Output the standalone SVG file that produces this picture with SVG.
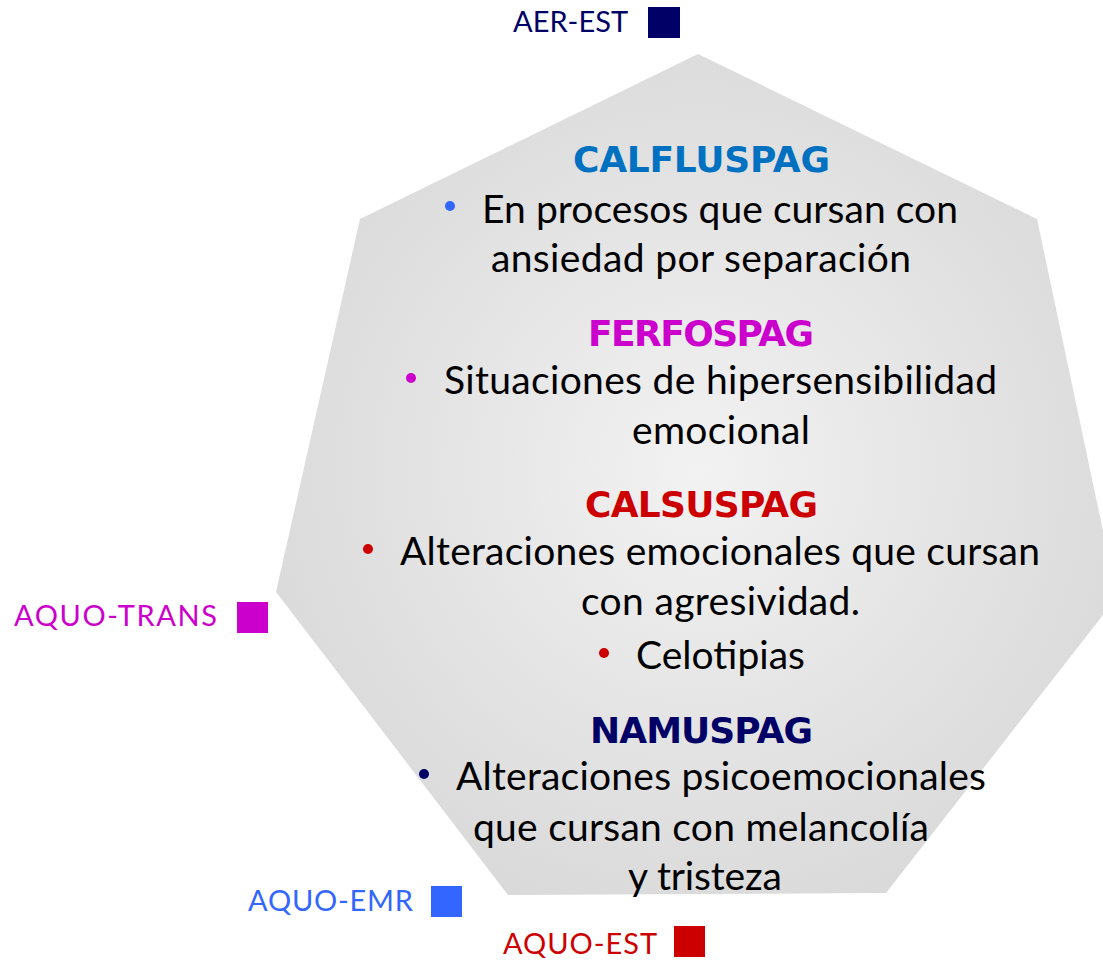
<svg xmlns="http://www.w3.org/2000/svg" width="1103" height="960" viewBox="0 0 1103 960">
<style>
.lbl{font-family:Lato,"Liberation Sans",sans-serif;font-size:29px}
.hd{font-family:"DejaVu Sans","Liberation Sans",sans-serif;font-weight:bold;font-size:36px}
.bd{font-family:Lato,"Open Sans","Liberation Sans",sans-serif;font-size:39px;fill:#000}
</style>
<defs>
<radialGradient id="g" cx="700" cy="470" r="470" gradientUnits="userSpaceOnUse">
<stop offset="0" stop-color="#f2f2f2"/>
<stop offset="1" stop-color="#d9d9d9"/>
</radialGradient>
</defs>
<g id="heptagon">
<polygon points="698,54 1037,219 1117,597 886,893 508,895 276,592 360,219" fill="url(#g)"/>
</g>
<g id="legend">
<g id="aer-est"><text class="lbl" x="513" y="32" fill="#000066" textLength="115">AER-EST</text><rect x="648" y="7" width="32" height="31" fill="#000066"/></g>
<g id="aquo-trans"><text class="lbl" x="14" y="626" fill="#CC00CC" textLength="203">AQUO-TRANS</text><rect x="237" y="602" width="31" height="31" fill="#CC00CC"/></g>
<g id="aquo-emr"><text class="lbl" x="248" y="911" fill="#3366FF" textLength="165">AQUO-EMR</text><rect x="431" y="886" width="31" height="31" fill="#3366FF"/></g>
<g id="aquo-est"><text class="lbl" x="503" y="954" fill="#CC0000" textLength="154">AQUO-EST</text><rect x="674" y="926" width="31" height="31" fill="#CC0000"/></g>
</g>
<g id="calfluspag">
<text class="hd" x="573" y="172" fill="#0070C0" textLength="257">CALFLUSPAG</text>
<circle cx="450" cy="206" r="5" fill="#3366FF"/>
<text class="bd" x="482" y="223" textLength="476">En procesos que cursan con</text>
<text class="bd" x="491" y="272" textLength="420">ansiedad por separación</text>
</g>
<g id="ferfospag">
<text class="hd" x="588" y="346" fill="#CC00CC" textLength="226">FERFOSPAG</text>
<circle cx="411" cy="378" r="5" fill="#CC00CC"/>
<text class="bd" x="444" y="394" textLength="553">Situaciones de hipersensibilidad</text>
<text class="bd" x="632" y="444" textLength="178">emocional</text>
</g>
<g id="calsuspag">
<text class="hd" x="585" y="517" fill="#CC0000" textLength="233">CALSUSPAG</text>
<circle cx="368" cy="549" r="5" fill="#CC0000"/>
<text class="bd" x="400" y="565" textLength="640">Alteraciones emocionales que cursan</text>
<text class="bd" x="581" y="615" textLength="279">con agresividad.</text>
<circle cx="604" cy="653" r="5" fill="#CC0000"/>
<text class="bd" x="636" y="669" textLength="169">Celotipias</text>
</g>
<g id="namuspag">
<text class="hd" x="590" y="743" fill="#000066" textLength="223">NAMUSPAG</text>
<circle cx="424" cy="774" r="5" fill="#000066"/>
<text class="bd" x="456" y="790" textLength="530">Alteraciones psicoemocionales</text>
<text class="bd" x="473" y="841" textLength="456">que cursan con melancolía</text>
<text class="bd" x="628" y="890" textLength="154">y tristeza</text>
</g>
<g id="connectors"></g>
</svg>
